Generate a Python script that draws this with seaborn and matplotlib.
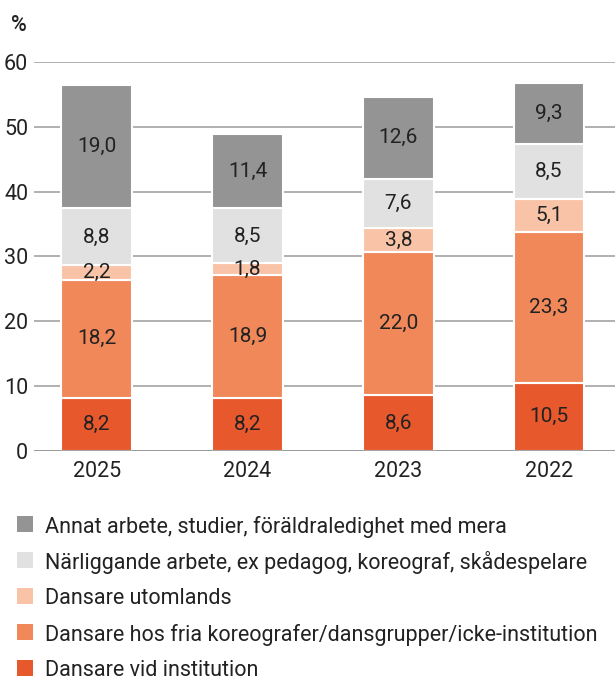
import matplotlib
matplotlib.use("Agg")
import matplotlib.pyplot as plt
import seaborn as sns
import pandas as pd
import numpy as np
from matplotlib.patches import Rectangle

years = ["2025", "2024", "2023", "2022"]
series_names = [
    "Dansare vid institution",
    "Dansare hos fria koreografer/dansgrupper/icke-institution",
    "Dansare utomlands",
    "Närliggande arbete, ex pedagog, koreograf, skådespelare",
    "Annat arbete, studier, föräldraledighet med mera",
]
institution = [8.2, 8.2, 8.6, 10.5]
fria = [18.2, 18.9, 22.0, 23.3]
utomlands = [2.2, 1.8, 3.8, 5.1]
narliggande = [8.8, 8.5, 7.6, 8.5]
annat = [19.0, 11.4, 12.6, 9.3]
yticks = [0, 10, 20, 30, 40, 50, 60]

colors = ["#e8582d", "#f0885a", "#f9c3a8", "#e1e1e1", "#949494"]

sns.set_theme(style="white")
plt.rcParams["font.family"] = ["Roboto", "DejaVu Sans"]

FS = 15.5
W, H = 615, 680

fig = plt.figure(figsize=(6.15, 6.8), dpi=100)
ax = fig.add_axes([0.055, 0.337, 0.945, 0.572])

values = [institution, fria, utomlands, narliggande, annat]
bottom = np.zeros(len(years))
for name, vals, col in zip(series_names, values, colors):
    df = pd.DataFrame({"year": years, "value": vals})
    sns.barplot(data=df, x="year", y="value", color=col, bottom=bottom,
                width=0.47, edgecolor="white", linewidth=1.5, ax=ax,
                saturation=1, zorder=3)
    for i, v in enumerate(vals):
        ax.text(i, bottom[i] + v / 2, f"{v:.1f}".replace(".", ","),
                ha="center", va="center", fontsize=15, color="#222222", zorder=5)
    bottom = bottom + np.array(vals)

ax.set_ylim(0, 60)
ax.set_xlim(-0.418, 3.438)
ax.set_yticks(yticks)
ax.set_yticklabels([str(t) for t in yticks])
ax.grid(axis="y", color="#aaaaaa", linewidth=1.3, zorder=0)
ax.axhline(0, color="#999999", linewidth=2, zorder=4)
for s in ax.spines.values():
    s.set_visible(False)
ax.set_xlabel("")
ax.set_ylabel("")
ax.tick_params(axis="y", length=0, labelsize=FS, colors="#222222", pad=4)
ax.tick_params(axis="x", length=0, labelsize=FS, colors="#222222", pad=7)

fig.text(0.018, 0.963, "%", fontsize=FS, color="#222222", ha="left", va="center",
         fontweight="medium")

# legend (top to bottom: reverse of stacking order)
for row, (name, col) in enumerate(zip(series_names[::-1], colors[::-1])):
    yc = 524 + 36 * row
    fig.patches.append(Rectangle((17 / W, 1 - (yc + 8) / H), 16 / W, 16 / H,
                                 facecolor=col, edgecolor="none",
                                 transform=fig.transFigure, figure=fig))
    fig.text(45 / W, 1 - yc / H, name, fontsize=FS, color="#222222",
             ha="left", va="center_baseline")

fig.savefig("out.png", dpi=100)
